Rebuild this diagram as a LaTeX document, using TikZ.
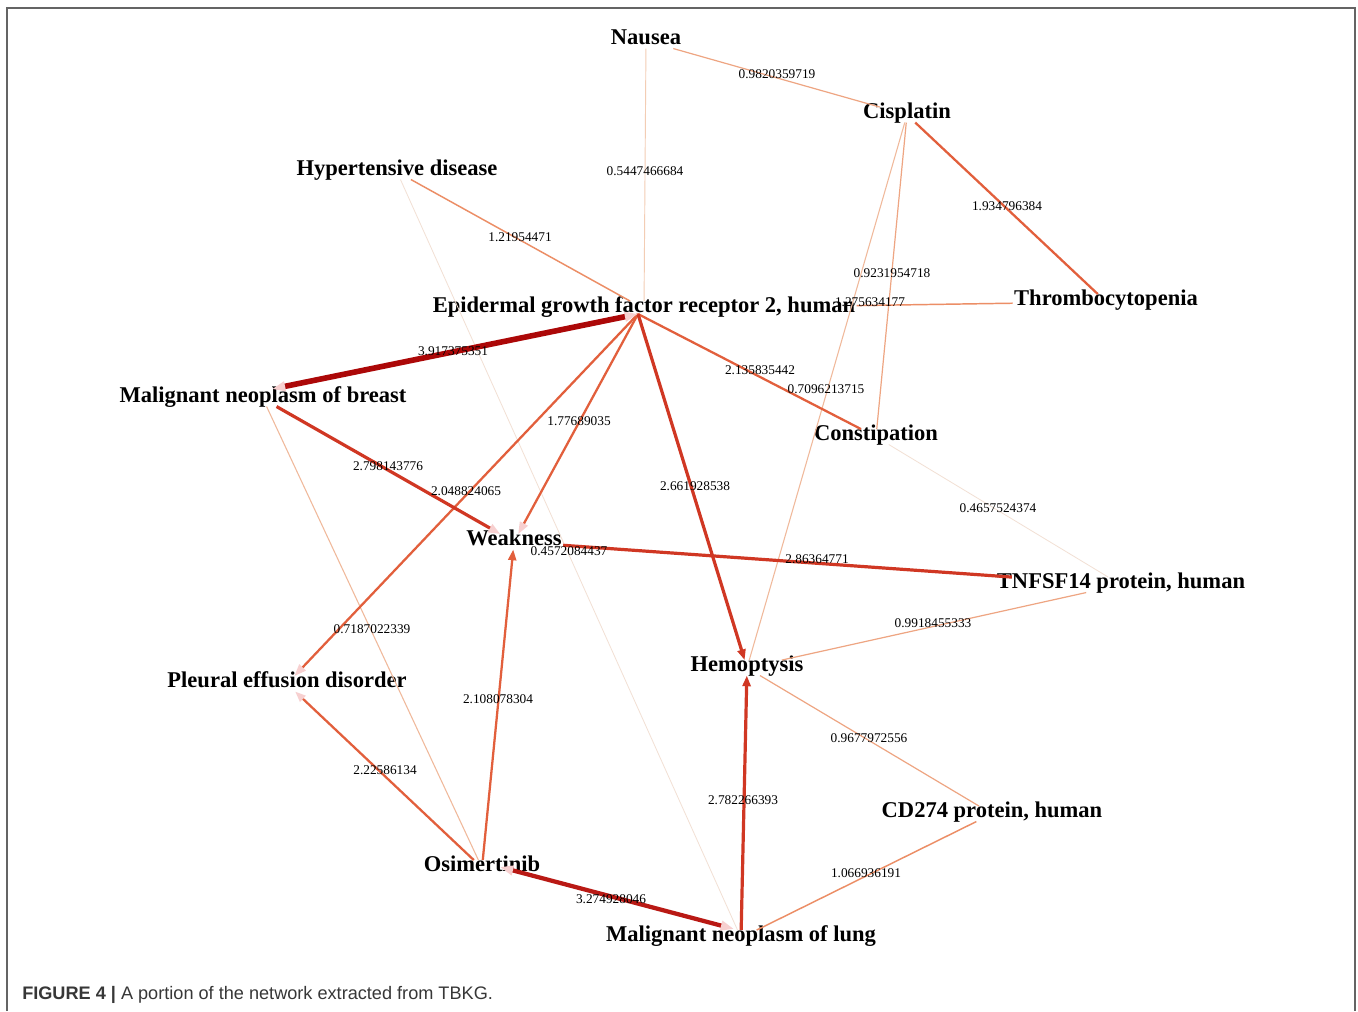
\documentclass[tikz,border=0pt]{standalone}
\usepackage{fontspec}
\setmainfont{Liberation Serif}
\newfontfamily\capfont{Liberation Sans}
\usetikzlibrary{arrows.meta,calc}
\definecolor{c0}{RGB}{242,224,212}
\definecolor{c1}{RGB}{243,205,180}
\definecolor{c2}{RGB}{240,185,155}
\definecolor{c3}{RGB}{238,165,130}
\definecolor{c4}{RGB}{236,142,102}
\definecolor{c5}{RGB}{226,95,60}
\definecolor{c6}{RGB}{208,55,35}
\definecolor{c7}{RGB}{185,25,20}
\definecolor{c8}{RGB}{172,8,8}
\definecolor{tipc}{RGB}{247,208,208}
\definecolor{framec}{RGB}{100,100,100}
\definecolor{capc}{RGB}{55,55,55}
\begin{document}
\begin{tikzpicture}[x=0.75pt,y=-0.75pt,
  lab/.style={font=\fontsize{16.9}{18}\selectfont\bfseries, inner sep=1pt,
              text height=0.7em, text depth=0.22em, anchor=base},
  num/.style={font=\fontsize{10}{11}\selectfont, inner sep=0pt,
              text height=0.68em, text depth=0pt},
  ew0/.style={draw=c0, line width=0.6pt},
  ew1/.style={draw=c1, line width=0.7pt},
  ew2/.style={draw=c2, line width=0.8pt},
  ew3/.style={draw=c3, line width=0.9pt},
  ew4/.style={draw=c4, line width=1.1pt},
  ew5/.style={draw=c5, line width=1.7pt},
  ew6/.style={draw=c6, line width=2.4pt},
  ew7/.style={draw=c7, line width=3.2pt},
  ew8/.style={draw=c8, line width=4.2pt},
  redtip/.style={-{Triangle[length=8pt,width=6pt]}},
  paletip/.style={-{Triangle[length=9pt,width=6.5pt,color=tipc]}},
  paleboth/.style={{Triangle[length=10pt,width=7pt,color=tipc]}-{Triangle[length=10pt,width=7pt,color=tipc]}},
  frameline/.style={draw=framec, line width=1.4pt}
]
\useasboundingbox (0,0) rectangle (1358,1011);
\fill[white] (0,0) rectangle (1358,1011);
\draw[frameline] (7,1011) -- (7,8) -- (1355,8) -- (1355,1011);

% nodes
\node[lab] (nau) at (646,44) {Nausea};
\node[lab] (cis) at (907,118) {Cisplatin};
\node[lab] (hyp) at (397,175) {Hypertensive disease};
\node[lab] (egfr) at (644,312) {Epidermal growth factor receptor 2, human};
\coordinate (egfrb) at (638,314);
\node[lab] (thr) at (1106,305) {Thrombocytopenia};
\node[lab] (brs) at (263,402) {Malignant neoplasm of breast};
\coordinate (brsp) at (272,389);
\node[lab] (con) at (876,440) {Constipation};
\node[lab] (wk) at (514,545) {Weakness};
\node[lab] (tnf) at (1121,588) {TNFSF14 protein, human};
\node[lab] (ple) at (287,687) {Pleural effusion disorder};
\node[lab] (hem) at (747,671) {Hemoptysis};
\node[lab] (cd) at (992,817) {CD274 protein, human};
\node[lab] (osi) at (482,871) {Osimertinib};
\coordinate (osip) at (500,867);
\node[lab] (lng) at (741,941) {Malignant neoplasm of lung};
\coordinate (lngp) at (734,929);

% edges
\draw[ew0] (hyp) -- (lng);
\draw[ew0] (con) -- (tnf);
\draw[ew1] (nau) -- (egfr);
\draw[ew2] (cis) -- (hem);
\draw[ew2] (brs) -- (osi);
\draw[ew3] (nau) -- (cis);
\draw[ew3] (cis) -- (con);
\draw[ew3] (tnf) -- (hem);
\draw[ew3] (hem) -- (cd);
\draw[ew4] (hyp) -- (egfr);
\draw[ew4] (egfr) -- (thr);
\draw[ew4] (lng) -- (cd);
\draw[ew5] (cis) -- (thr);
\draw[ew5, paletip] (egfrb) -- (wk);
\draw[ew5, paletip] (egfrb) -- (ple);
\draw[ew5] (egfrb) -- (con);
\draw[ew5, {Triangle[length=8pt,width=6pt,color=tipc]}-] (ple) -- (osi);
\draw[ew5, redtip] (osi) -- (wk);
\draw[ew6, redtip] (egfrb) -- (hem);
\draw[ew6, paletip] (brs) -- (wk);
\draw[ew6] (wk) -- (tnf);
\draw[ew6, redtip] (lng) -- (hem);
\draw[ew7, paleboth] (osip) -- (lngp);
\draw[ew8, paleboth] (brsp) -- (egfrb);

% edge labels
\node[num] (l01) at (777,74) {0.9820359719};
\node[num] (l02) at (645,171) {0.5447466684};
\node[num] (l03) at (1007,206) {1.934796384};
\node[num] (l04) at (520,237) {1.21954471};
\node[num] (l05) at (892,273) {0.9231954718};
\node[num] (l06) at (870,302) {1.275634177};
\node[num] (l07) at (453,351) {3.917375351};
\node[num] (l08) at (760,370) {2.135835442};
\node[num] (l09) at (826,389) {0.7096213715};
\node[num] (l10) at (579,421) {1.77689035};
\node[num] (l11) at (388,466) {2.798143776};
\node[num] (l12) at (466,491) {2.048824065};
\node[num] (l13) at (695,486) {2.661928538};
\node[num] (l14) at (998,508) {0.4657524374};
\node[num] (l15) at (569,551) {0.4572084437};
\node[num] (l16) at (817,559) {2.86364771};
\node[num] (l17) at (372,629) {0.7187022339};
\node[num] (l18) at (933,623) {0.9918455333};
\node[num] (l19) at (498,699) {2.108078304};
\node[num] (l20) at (869,738) {0.9677972556};
\node[num] (l21) at (385,770) {2.22586134};
\node[num] (l22) at (743,800) {2.782266393};
\node[num] (l23) at (866,873) {1.066936191};
\node[num] (l24) at (611,899) {3.274928046};

% caption
\node[anchor=base west, inner sep=0pt, text=capc,
      font=\capfont\fontsize{13.6}{15}\selectfont] (cap) at (22,999)
      {\textbf{FIGURE 4 |} A portion of the network extracted from TBKG.};
\end{tikzpicture}
\end{document}
